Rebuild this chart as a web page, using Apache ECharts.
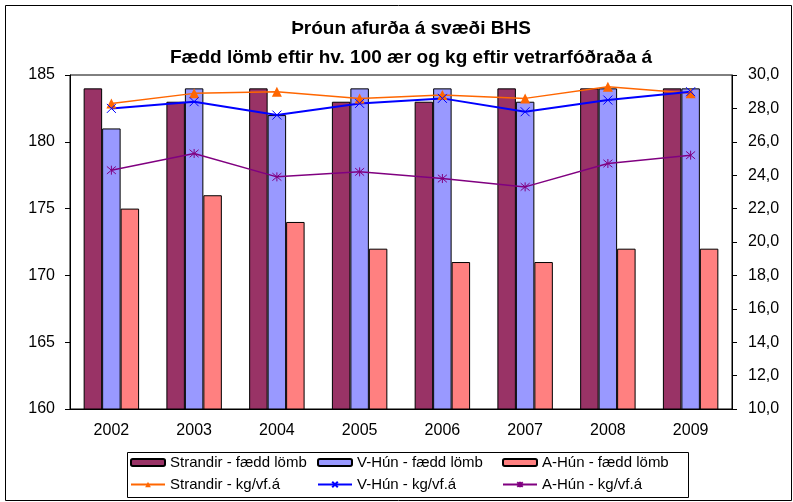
<!DOCTYPE html>
<html>
<head>
<meta charset="utf-8">
<script src="https://cdn.jsdelivr.net/npm/echarts@6/dist/echarts.min.js"></script>
<style>
  html, body { margin: 0; padding: 0; background: #fff; }
  #chart { width: 793px; height: 502px; }
</style>
</head>
<body>
<div id="chart"></div>
<script>
var years = ["2002", "2003", "2004", "2005", "2006", "2007", "2008", "2009"];

// fædd lömb eftir hv. 100 ær (left axis)
var strandirLomb = [184, 183, 184, 183, 183, 184, 184, 184];
var vHunLomb = [181, 184, 182, 184, 184, 183, 184, 184];
var aHunLomb = [175, 176, 174, 172, 171, 171, 172, 172];

// kg eftir vetrarfóðraða á (right axis)
var strandirKg = [28.3, 28.9, 29.0, 28.6, 28.8, 28.6, 29.3, 28.9];
var vHunKg = [28.0, 28.4, 27.6, 28.3, 28.6, 27.8, 28.5, 29.0];
var aHunKg = [24.3, 25.3, 23.9, 24.2, 23.8, 23.3, 24.7, 25.2];

var font = "Liberation Sans, Arial, sans-serif";
var xMark = "path://M0,0L10,10M10,0L0,10";
var starMark = "path://M0,0L10,10M10,0L0,10M5,-1L5,11";

var chart = echarts.init(document.getElementById("chart"));

var barStyle = function(c) {
  return { color: c, borderColor: "#000", borderWidth: 1 };
};

var legendCol = function(left, names) {
  return {
    orient: "vertical", left: left, top: 455, padding: 0, itemGap: 7,
    height: 46, itemWidth: 34, itemHeight: 7,
    textStyle: { fontSize: 15, color: "#000", fontFamily: font },
    data: names
  };
};

var option = {
  animation: false,
  backgroundColor: "#fff",
  textStyle: { fontFamily: font },
  title: [
    {
      text: "Þróun afurða á svæði BHS",
      left: 406, top: 14, textAlign: "center",
      textStyle: { fontSize: 19, fontWeight: "bold", color: "#000", fontFamily: font }
    },
    {
      text: "Fædd lömb eftir hv. 100 ær og kg eftir vetrarfóðraða á",
      left: 406, top: 43, textAlign: "center",
      textStyle: { fontSize: 19, fontWeight: "bold", color: "#000", fontFamily: font }
    }
  ],
  grid: {
    left: 70, right: 61, top: 75, bottom: 93,
    show: true, borderColor: "#000", borderWidth: 1
  },
  legend: [
    legendCol(130, ["Strandir - fædd lömb", "Strandir - kg/vf.á"]),
    legendCol(317, ["V-Hún - fædd lömb", "V-Hún - kg/vf.á"]),
    legendCol(502, ["A-Hún - fædd lömb", "A-Hún - kg/vf.á"])
  ],
  graphic: [
    {
      type: "rect", left: 3, top: 3, silent: true,
      shape: { width: 786, height: 495 },
      style: { fill: "none", stroke: "#000", lineWidth: 1 }
    },
    {
      type: "rect", left: 125, top: 450, silent: true,
      shape: { width: 561, height: 45 },
      style: { fill: "none", stroke: "#000", lineWidth: 1 }
    }
  ],
  xAxis: {
    type: "category",
    data: years,
    boundaryGap: true,
    axisLine: { lineStyle: { color: "#000" } },
    axisTick: { interval: 0, length: 5, lineStyle: { color: "#000" } },
    axisLabel: { fontSize: 16, color: "#000", margin: 14, fontFamily: font }
  },
  yAxis: [
    {
      type: "value", min: 160, max: 185, interval: 5,
      axisLine: { show: true, lineStyle: { color: "#000" } },
      axisTick: { show: true, length: 5, lineStyle: { color: "#000" } },
      axisLabel: { fontSize: 16, color: "#000", margin: 15, fontFamily: font },
      splitLine: { show: false }
    },
    {
      type: "value", min: 10, max: 30, interval: 2, position: "right",
      axisLine: { show: true, lineStyle: { color: "#000" } },
      axisTick: { show: true, length: 5, lineStyle: { color: "#000" } },
      axisLabel: {
        fontSize: 16, color: "#000", margin: 16, fontFamily: font,
        formatter: function(v) { return v.toFixed(1).replace(".", ","); }
      },
      splitLine: { show: false }
    }
  ],
  series: [
    {
      name: "Strandir - fædd lömb", type: "bar", yAxisIndex: 0,
      barGap: "0%", barCategoryGap: "33%",
      itemStyle: barStyle("#993366"), data: strandirLomb
    },
    {
      name: "V-Hún - fædd lömb", type: "bar", yAxisIndex: 0,
      barGap: "0%", barCategoryGap: "33%",
      itemStyle: barStyle("#9999FF"), data: vHunLomb
    },
    {
      name: "A-Hún - fædd lömb", type: "bar", yAxisIndex: 0,
      barGap: "0%", barCategoryGap: "33%",
      itemStyle: barStyle("#FF8080"), data: aHunLomb
    },
    {
      name: "Strandir - kg/vf.á", type: "line", yAxisIndex: 1,
      symbol: "triangle", symbolSize: 10, showAllSymbol: true,
      lineStyle: { color: "#FF6600", width: 1.5 },
      itemStyle: { color: "#FF6600" },
      data: strandirKg
    },
    {
      name: "V-Hún - kg/vf.á", type: "line", yAxisIndex: 1,
      symbol: xMark, symbolSize: 9, showAllSymbol: true,
      lineStyle: { color: "#0000FF", width: 2 },
      itemStyle: { color: "none", borderColor: "#0000FF", borderWidth: 1 },
      data: vHunKg
    },
    {
      name: "A-Hún - kg/vf.á", type: "line", yAxisIndex: 1,
      symbol: starMark, symbolSize: 9, showAllSymbol: true,
      lineStyle: { color: "#800080", width: 1.5 },
      itemStyle: { color: "none", borderColor: "#800080", borderWidth: 1 },
      data: aHunKg
    }
  ]
};

chart.setOption(option);
</script>
</body>
</html>
